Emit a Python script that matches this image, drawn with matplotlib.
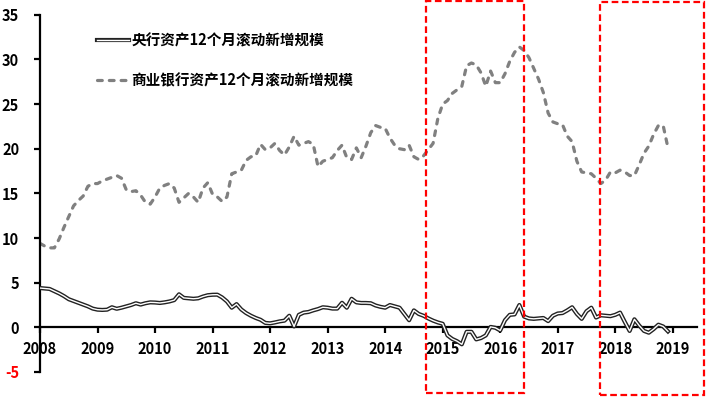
import matplotlib
matplotlib.use("Agg")
import matplotlib.pyplot as plt
import matplotlib.patheffects as pe
from matplotlib.patches import Rectangle
import numpy as np

plt.rcParams['font.family'] = ['Noto Sans CJK SC', 'DejaVu Sans']
plt.rcParams['font.weight'] = 'bold'

# monthly values, Jan 2008 .. Dec 2018 (万亿元)
pboc = [4.4, 4.35, 4.3, 4.05, 3.8, 3.5, 3.15, 2.95, 2.75, 2.55, 2.35, 2.1,
        1.98, 1.95, 1.98, 2.25, 2.08, 2.2, 2.35, 2.5, 2.7, 2.55, 2.7, 2.8,
        2.78, 2.73, 2.8, 2.9, 3.05, 3.7, 3.3, 3.25, 3.2, 3.25, 3.45, 3.6,
        3.65, 3.66, 3.35, 2.9, 2.2, 2.6, 2.0, 1.6, 1.3, 1.05, 0.85, 0.5,
        0.45, 0.55, 0.67, 0.75, 1.3, 0.1, 1.4, 1.65, 1.72, 1.9, 2.05, 2.25,
        2.2, 2.1, 2.1, 2.75, 2.2, 3.2, 2.8, 2.73, 2.73, 2.7, 2.45, 2.3,
        2.2, 2.5, 2.35, 2.2, 1.5, 0.8, 1.9, 1.5, 1.3, 1.0, 0.75, 0.55,
        0.4, -0.9, -1.3, -1.55, -1.9, -0.5, -0.5, -1.35, -1.2, -0.9, 0.05, -0.05,
        -0.35, 0.8, 1.4, 1.45, 2.5, 1.2, 1.0, 0.95, 1.0, 1.05, 0.7, 1.3,
        1.55, 1.6, 1.9, 2.25, 1.5, 0.95, 1.8, 2.2, 1.1, 1.35, 1.3, 1.25,
        1.4, 1.65, 0.6, -0.4, 0.9, 0.2, -0.4, -0.6, -0.2, 0.3, 0.1, -0.45]

banks = [9.4, 9.1, 8.9, 8.9, 9.9, 11.2, 12.4, 13.6, 14.2, 14.7, 15.8, 16.1,
         16.1, 16.4, 16.6, 16.8, 17.0, 16.7, 15.4, 15.2, 15.3, 14.8, 14.0, 13.8,
         14.6, 15.6, 15.9, 16.1, 15.6, 14.0, 14.5, 15.0, 14.6, 14.0, 15.6, 16.2,
         14.9, 14.6, 14.1, 14.6, 17.2, 17.4, 17.6, 18.7, 19.1, 19.2, 20.5, 19.9,
         20.1, 20.6, 19.8, 19.3, 20.2, 21.4, 20.4, 20.6, 20.8, 20.5, 18.0, 18.6,
         18.8, 19.0, 19.8, 20.4, 19.0, 18.8, 20.1, 19.0, 20.3, 21.8, 22.6, 22.4,
         22.3, 21.2, 20.4, 20.0, 19.9, 20.4, 19.1, 18.8, 19.2, 19.9, 20.6, 23.4,
         25.0, 25.4, 26.2, 26.6, 27.0, 29.3, 29.6, 29.4, 28.5, 27.0, 28.7, 27.4,
         27.4, 28.4, 29.8, 30.8, 31.4, 31.0, 30.2, 29.0, 27.8, 26.3, 24.0, 23.0,
         22.8, 22.7, 21.4, 20.8, 18.6, 17.4, 17.3, 17.2, 16.7, 16.1, 16.5, 17.4,
         17.3, 17.6, 17.4, 17.0, 17.0, 18.2, 19.5, 20.3, 21.6, 22.6, 22.6, 20.1]

years = list(range(2008, 2020))
yticks = [-5, 0, 5, 10, 15, 20, 25, 30, 35]

months = np.arange(len(pboc))

fig = plt.figure(figsize=(7.22, 4.0), dpi=100)
ax = fig.add_axes([0.0554, 0.07, 0.9096, 0.893])

ax.plot(months, pboc, color='white', lw=1.0, label='央行资产12个月滚动新增规模',
        path_effects=[pe.Stroke(linewidth=3.0, foreground='#222222'), pe.Normal()],
        zorder=3)
ax.plot(months, banks, color='#808080', lw=2.3, linestyle=(0, (1.5, 2.2)),
        dash_capstyle='round', label='商业银行资产12个月滚动新增规模', zorder=2)

ax.set_xlim(0, 137)
ax.set_ylim(-5, 35)
ax.set_xticks([(y - 2008) * 12 for y in years])
ax.set_xticklabels([str(y) for y in years])
ax.set_yticks(yticks)
ax.set_yticklabels([str(v) for v in yticks])
ax.get_yticklabels()[0].set_color('red')

ax.spines['top'].set_visible(False)
ax.spines['right'].set_visible(False)
ax.spines['bottom'].set_position(('data', 0))
ax.spines['bottom'].set_linewidth(1.6)
ax.spines['left'].set_linewidth(1.6)
ax.tick_params(axis='x', length=4, width=1.6, pad=6, labelsize=10.5)
ax.tick_params(axis='y', length=4, width=1.6, pad=11, labelsize=10.5)
for t in ax.get_xticklabels() + ax.get_yticklabels():
    t.set_fontweight('bold')

leg = ax.legend(loc='upper left', bbox_to_anchor=(0.087, 0.951), frameon=False,
                handlelength=2.2, handletextpad=0.15, labelspacing=1.65,
                borderpad=0, borderaxespad=0,
                prop={'size': 10.5, 'weight': 'bold'})

# red dashed highlight boxes
for x0, x1, y0, y1 in [(0.590, 0.7258, 0.0183, 0.9975), (0.831, 0.9747, 0.0125, 0.994)]:
    fig.add_artist(Rectangle((x0, y0), x1 - x0, y1 - y0, transform=fig.transFigure,
                             fill=False, edgecolor='#FF0000', lw=1.6,
                             linestyle=(0, (3, 1.6)), clip_on=False))

fig.savefig('out.png', dpi=100)
